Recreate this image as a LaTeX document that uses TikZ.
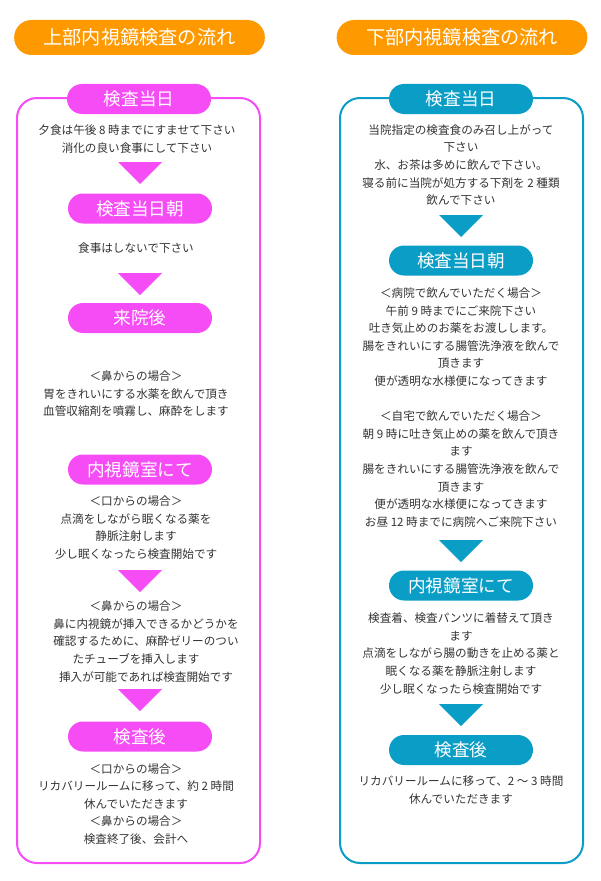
\documentclass[tikz,border=0pt]{standalone}
\usepackage{fontspec}
\setmainfont{Noto Sans CJK JP}

\definecolor{pinkc}{HTML}{F64CF6}
\definecolor{bluec}{HTML}{0A9EC6}
\definecolor{orangec}{HTML}{FF9900}
\definecolor{textc}{HTML}{333333}

\begin{document}
\begin{tikzpicture}[
            x=0.75pt, y=-0.75pt,
            title/.style={
                rounded corners=13pt,
                fill=orangec,
                text=white,
                minimum width=188pt,
                minimum height=26.25pt,
                inner sep=0pt,
                font=\fontsize{14.4}{16}\selectfont
            },
            pill/.style={
                rounded corners=11.25pt,
                text=white,
                minimum width=108pt,
                minimum height=22.5pt,
                inner sep=0pt,
                font=\fontsize{13.2}{15}\selectfont
            },
            body/.style={
                align=center,
                text=textc,
                inner sep=0pt,
                font=\fontsize{8.7}{13.2}\selectfont
            },
            frame/.style={line width=1.5pt, rounded corners=15pt},
            downtri/.pic={\fill (-22,0) -- (22,0) -- (0,22) -- cycle;}
        ]
        \useasboundingbox (0,0) rectangle (600,881);

        % Títulos
        \node[title] (tup) at (139.5,37.5) {上部内視鏡検査の流れ};
        \node[title] (tdown) at (462,37.5) {下部内視鏡検査の流れ};

        % Marcos
        \draw[frame, pinkc] (17,98) rectangle (260,863);
        \draw[frame, bluec] (340,98) rectangle (583,863);

        % Etapas (izquierda)
        \node[pill, fill=pinkc] (u1) at (139,99)    {検査当日};
        \node[pill, fill=pinkc] (u2) at (140,208.5) {検査当日朝};
        \node[pill, fill=pinkc] (u3) at (140,318)   {来院後};
        \node[pill, fill=pinkc] (u4) at (140,469.5) {内視鏡室にて};
        \node[pill, fill=pinkc] (u5) at (140,736.5) {検査後};

        % Textos (izquierda)
        \node[body] (ut1) at (137,139) {夕食は午後 8 時までにすませて下さい\\消化の良い食事にして下さい};
        \node[body] (ut2) at (136,248) {食事はしないで下さい};
        \node[body] (ut3) at (136,394) {＜鼻からの場合＞\\胃をきれいにする水薬を飲んで頂き\\血管収縮剤を噴霧し、麻酔をします};
        \node[body] (ut4) at (136,527.5) {＜口からの場合＞\\点滴をしながら眠くなる薬を\\静脈注射します\\少し眠くなったら検査開始です};
        \node[body] (ut5) at (136,641.5) {＜鼻からの場合＞\\\hspace*{15pt}鼻に内視鏡が挿入できるかどうかを\\\hspace*{15pt}確認するために、麻酔ゼリーのつい\\たチューブを挿入します\\\hspace*{15pt}挿入が可能であれば検査開始です};
        \node[body] (ut6) at (136,804) {＜口からの場合＞\\リカバリールームに移って、約 2 時間\\休んでいただきます\\＜鼻からの場合＞\\検査終了後、会計へ};

        % Flechas (izquierda)
        \foreach \y in {162,273,570,689}
            \pic[color=pinkc] at (140,\y) {downtri};

        % Etapas (derecha)
        \node[pill, fill=bluec] (d1) at (461,99)    {検査当日};
        \node[pill, fill=bluec] (d2) at (461,260.5) {検査当日朝};
        \node[pill, fill=bluec] (d3) at (461,585.5) {内視鏡室にて};
        \node[pill, fill=bluec] (d4) at (461,750)   {検査後};

        % Textos (derecha)
        \node[body] (dt1) at (461,165) {当院指定の検査食のみ召し上がって\\下さい\\水、お茶は多めに飲んで下さい。\\寝る前に当院が処方する下剤を 2 種類\\飲んで下さい};
        \node[body] (dt2) at (461,407.5) {＜病院で飲んでいただく場合＞\\午前 9 時までにご来院下さい\\吐き気止めのお薬をお渡しします。\\腸をきれいにする腸管洗浄液を飲んで\\頂きます\\便が透明な水様便になってきます\\[13.2pt]＜自宅で飲んでいただく場合＞\\朝 9 時に吐き気止めの薬を飲んで頂き\\ます\\腸をきれいにする腸管洗浄液を飲んで\\頂きます\\便が透明な水様便になってきます\\お昼 12 時までに病院へご来院下さい};
        \node[body] (dt3) at (461,653.5) {検査着、検査パンツに着替えて頂き\\ます\\点滴をしながら腸の動きを止める薬と\\眠くなる薬を静脈注射します\\少し眠くなったら検査開始です};
        \node[body] (dt4) at (461,790) {リカバリールームに移って、2 ～ 3 時間\\休んでいただきます};

        % Flechas (derecha)
        \foreach \y in {215,540,704}
            \pic[color=bluec] at (461,\y) {downtri};

        \end{tikzpicture}
\end{document}
